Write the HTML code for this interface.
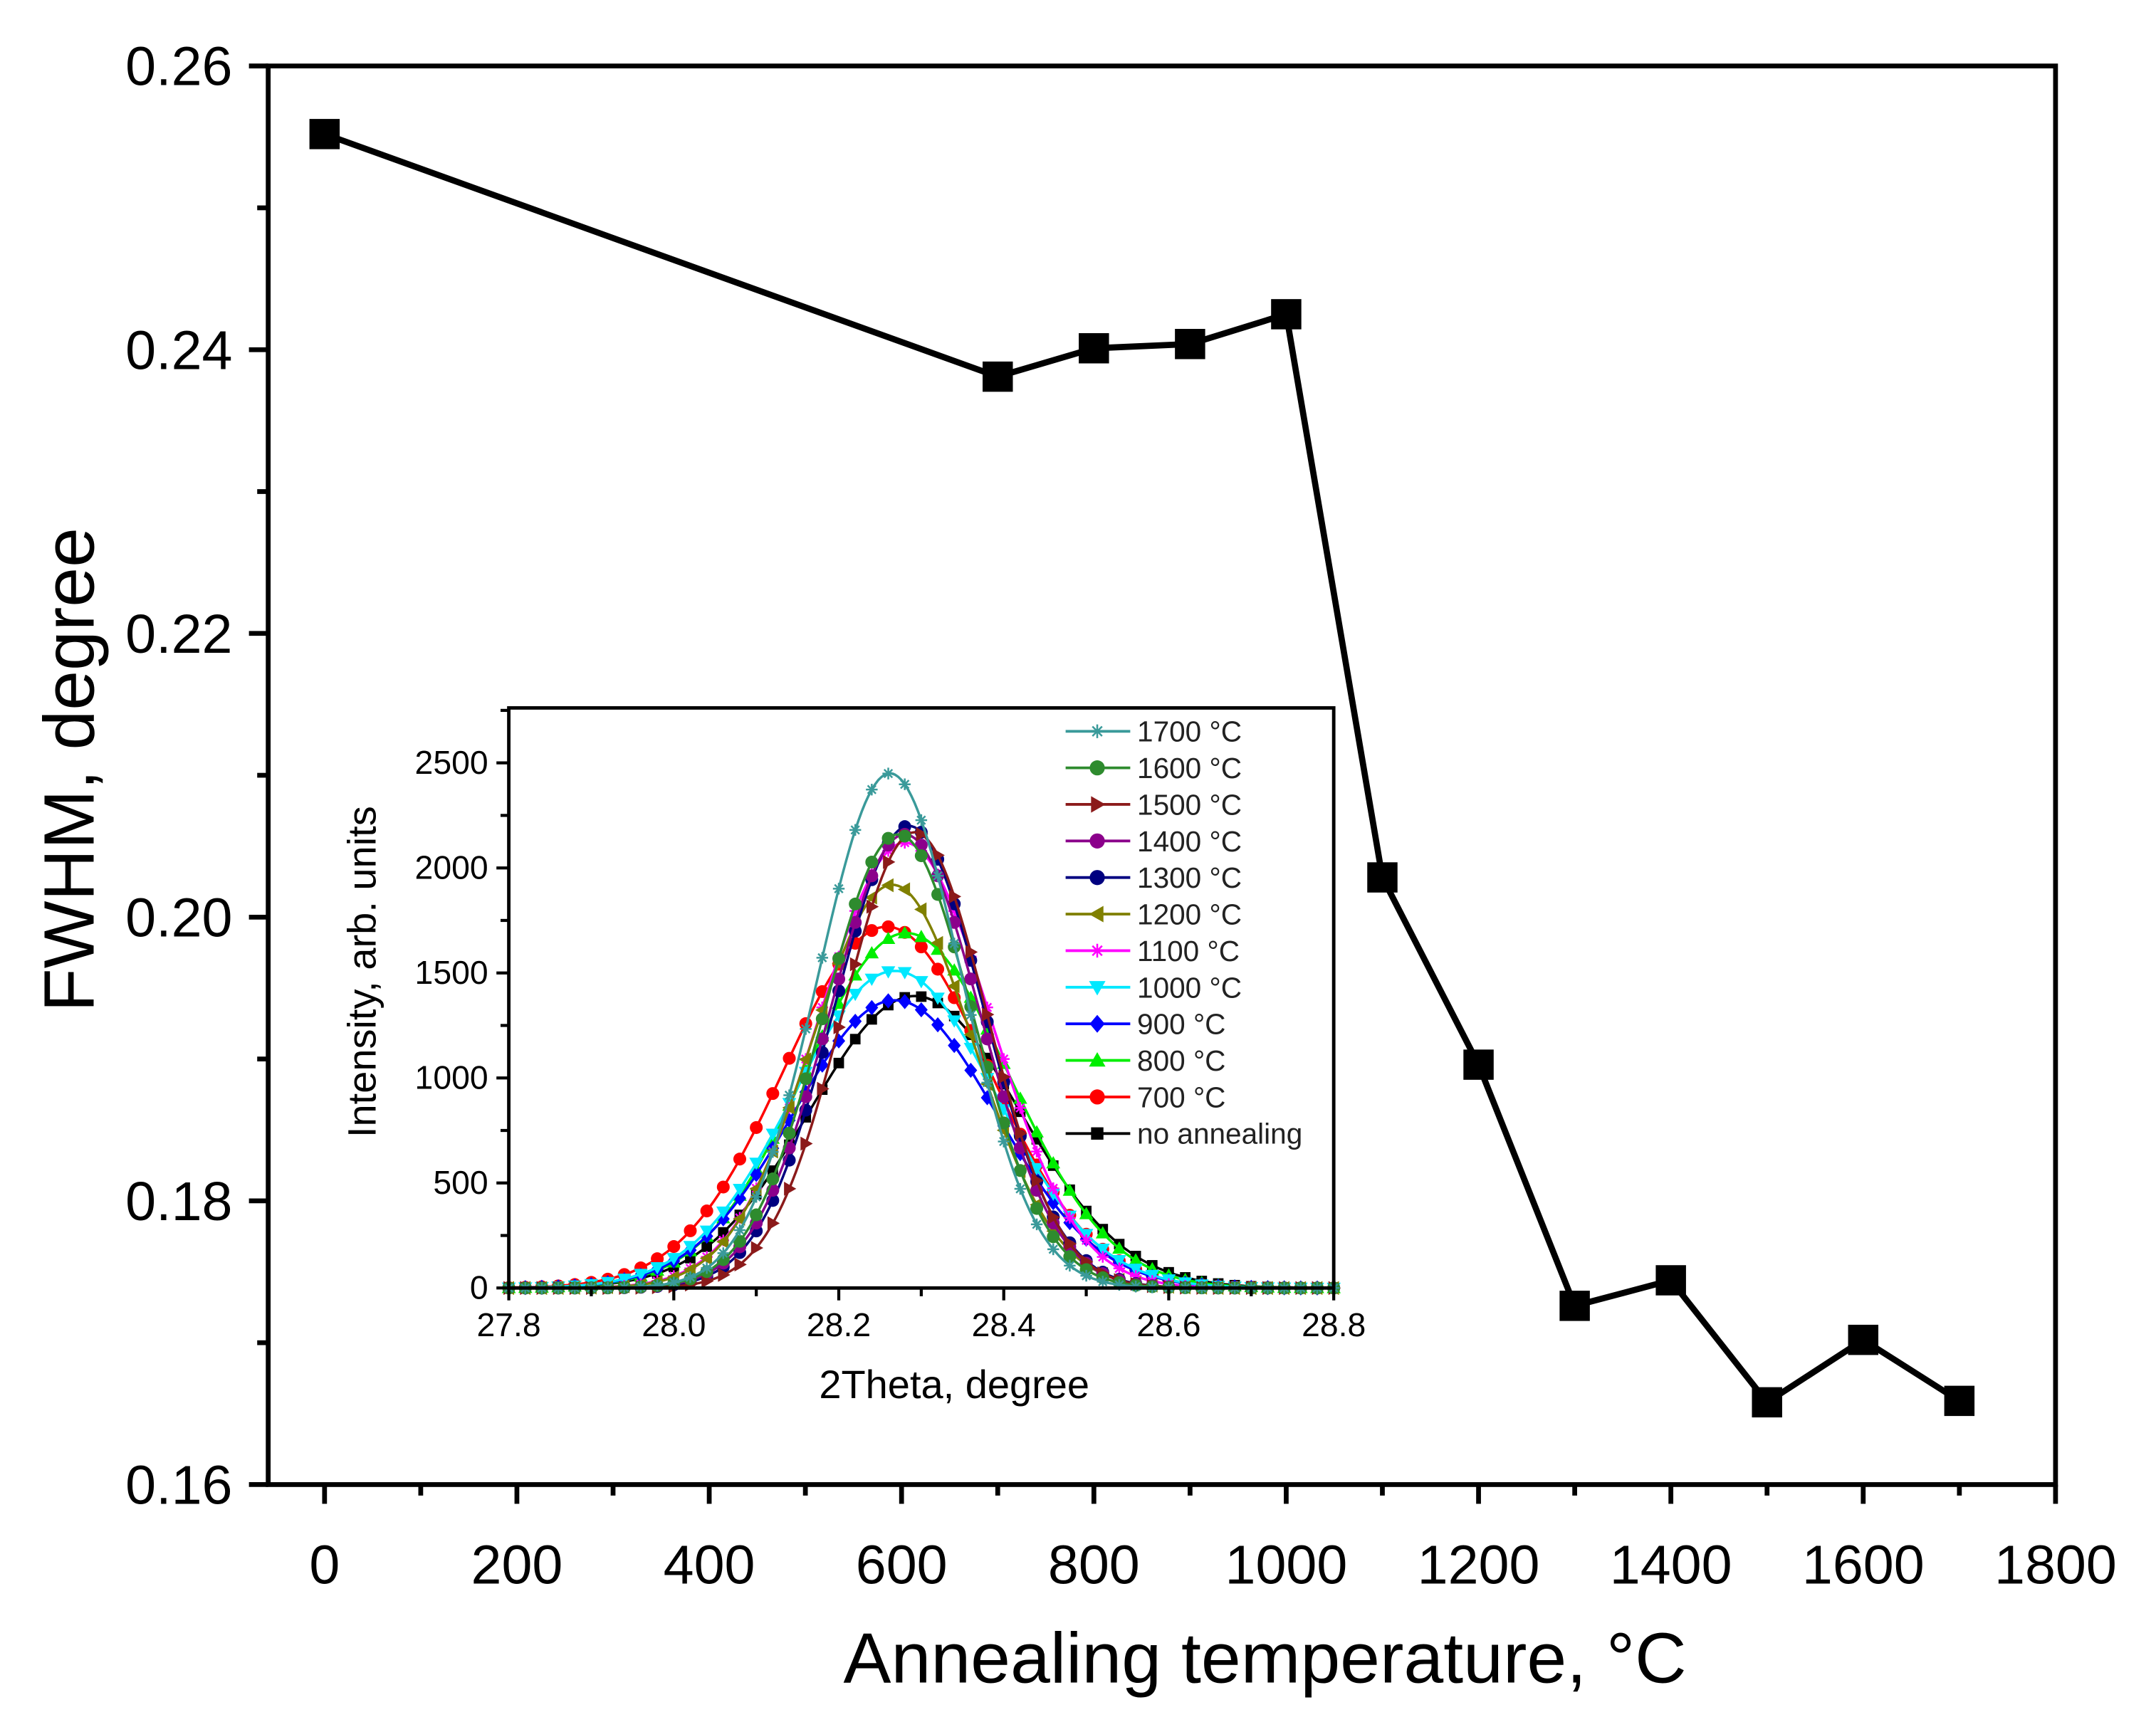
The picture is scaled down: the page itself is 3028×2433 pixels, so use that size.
<!DOCTYPE html>
<html><head><meta charset="utf-8"><style>
html,body{margin:0;padding:0;background:#fff;}
svg{display:block;font-family:"Liberation Sans",Arial,sans-serif;}
</style></head><body>
<svg id="chart" width="3028" height="2433" viewBox="0 0 1568 1260" xmlns="http://www.w3.org/2000/svg">
<rect x="0" y="0" width="1568" height="1260" fill="#fff"/>
<g id="main"></g>
<g id="inset"></g>
</svg>
<script>
// ---- main chart data ----
const temps = [0, 700, 800, 900, 1000, 1100, 1200, 1300, 1400, 1500, 1600, 1700];
const fwhmValues = [0.2552, 0.2381, 0.2401, 0.2404, 0.2425, 0.2028, 0.1896, 0.1726, 0.1744, 0.1658, 0.1702, 0.1659];
const xTickLabels = ["0","200","400","600","800","1000","1200","1400","1600","1800"];
const yTickLabels = ["0.16","0.18","0.20","0.22","0.24","0.26"];
// ---- inset data (peak parameters) ----
const seriesNames = ["1700 °C","1600 °C","1500 °C","1400 °C","1300 °C","1200 °C","1100 °C","1000 °C","900 °C","800 °C","700 °C","no annealing"];
const peakCenters = [28.262, 28.272, 28.292, 28.280, 28.285, 28.265, 28.280, 28.268, 28.268, 28.282, 28.258, 28.292];
const peakHeights = [2450, 2160, 2170, 2160, 2200, 1920, 2120, 1510, 1370, 1690, 1720, 1390];
const peakWidths = [0.205, 0.212, 0.205, 0.215, 0.213, 0.232, 0.245, 0.290, 0.290, 0.290, 0.292, 0.300];
const insetXTicks = ["27.8","28.0","28.2","28.4","28.6","28.8"];
const insetYTicks = ["0","500","1000","1500","2000","2500"];

const NS = "http://www.w3.org/2000/svg";
function mk(tag, attrs, parent){
  const e = document.createElementNS(NS, tag);
  for (const k in attrs) e.setAttribute(k, attrs[k]);
  parent.appendChild(e);
  return e;
}
// ===== main =====
const M = document.getElementById('main');
const mx = t => 236 + t * (1259/1800);
const my = v => 48 + (0.26 - v) / 0.1 * 1032;
let frame = mk('rect', {x:195, y:48, width:1300, height:1032, fill:'none', stroke:'#000', 'stroke-width':3.5}, M);


for (let t = 0; t <= 1800; t += 100) {
  const major = t % 200 === 0;
  const tk = mk('line', {x1:mx(t), x2:mx(t), y1:1080, y2:1080 + (major?14:8), stroke:'#000', 'stroke-width':3.5}, M);
  
  
}
xTickLabels.forEach((l, i) => {
  const tx = mk('text', {x:mx(+l), y:1152, 'font-size':40, 'text-anchor':'middle'}, M);
  tx.textContent = l;
  
  
});
for (let k = 0; k <= 10; k++) {
  const v = 0.16 + k * 0.01;
  const major = k % 2 === 0;
  const tk = mk('line', {x1:195 - (major?14:8), x2:195, y1:my(v), y2:my(v), stroke:'#000', 'stroke-width':3.5}, M);
  
  
}
yTickLabels.forEach(l => {
  const tx = mk('text', {x:169, y:my(+l) + 14, 'font-size':40, 'text-anchor':'end'}, M);
  tx.textContent = l;
  
  
});
let xt = mk('text', {x:920, y:1224, 'font-size':52, 'text-anchor':'middle'}, M);
xt.textContent = 'Annealing temperature, °C';


let yt = mk('text', {x:0, y:0, 'font-size':52, 'text-anchor':'middle', transform:'translate(68,560) rotate(-90)'}, M);
yt.textContent = 'FWHM, degree';


let mline = mk('polyline', {points: temps.map((t,i)=>mx(t)+','+my(fwhmValues[i])).join(' '), fill:'none', stroke:'#000', 'stroke-width':4.5}, M);


temps.forEach((t, i) => {
  const r = mk('rect', {x:mx(t)-11, y:my(fwhmValues[i])-11, width:22, height:22, fill:'#000'}, M);
  
  
});

// ===== inset =====
const I = document.getElementById('inset');
const ix = t => 370 + (t - 27.8) * 600;
const iy = v => 937 - v * (382/2500);
let ibg = mk('rect', {x:370, y:515, width:600, height:422, fill:'#fff', stroke:'none'}, I);


const colors = ["#3a9a9a","#2e8b2e","#8b1a1a","#8b008b","#000080","#808000","#ff00ff","#00e8ff","#0000ff","#00ee00","#ff0000","#000000"];
const shapes = ["star","circle","tri-right","circle","circle","tri-left","star","tri-down","diamond","tri-up","circle","square"];
function marker(shape, x, y, s, color, parent){
  let e;
  if (shape === 'circle') e = mk('circle', {cx:x, cy:y, r:s*0.55, fill:color}, parent);
  else if (shape === 'square') e = mk('rect', {x:x-s*0.45, y:y-s*0.45, width:s*0.9, height:s*0.9, fill:color}, parent);
  else if (shape === 'diamond') e = mk('polygon', {points:`${x},${y-s*0.65} ${x+s*0.55},${y} ${x},${y+s*0.65} ${x-s*0.55},${y}`, fill:color}, parent);
  else if (shape === 'tri-up') e = mk('polygon', {points:`${x},${y-s*0.6} ${x+s*0.6},${y+s*0.45} ${x-s*0.6},${y+s*0.45}`, fill:color}, parent);
  else if (shape === 'tri-down') e = mk('polygon', {points:`${x},${y+s*0.6} ${x+s*0.6},${y-s*0.45} ${x-s*0.6},${y-s*0.45}`, fill:color}, parent);
  else if (shape === 'tri-right') e = mk('polygon', {points:`${x+s*0.6},${y} ${x-s*0.45},${y-s*0.6} ${x-s*0.45},${y+s*0.6}`, fill:color}, parent);
  else if (shape === 'tri-left') e = mk('polygon', {points:`${x-s*0.6},${y} ${x+s*0.45},${y-s*0.6} ${x+s*0.45},${y+s*0.6}`, fill:color}, parent);
  else e = mk('path', {d:`M${x-s*0.5},${y}H${x+s*0.5}M${x},${y-s*0.5}V${y+s*0.5}M${x-s*0.35},${y-s*0.35}L${x+s*0.35},${y+s*0.35}M${x-s*0.35},${y+s*0.35}L${x+s*0.35},${y-s*0.35}`, stroke:color, 'stroke-width':1.3, fill:'none'}, parent);
  return e;
}
const profile = (t, i) => {
  const s = peakWidths[i] / 2.3548;
  return peakHeights[i] * Math.exp(-0.5 * Math.pow((t - peakCenters[i]) / s, 2));
};
for (let i = seriesNames.length - 1; i >= 0; i--) {
  const g = mk('g', {}, I);
  
  
  const pts = [];
  for (let t = 27.8; t <= 28.8001; t += 0.004) pts.push(ix(t).toFixed(1) + ',' + iy(profile(t, i)).toFixed(1));
  const pl = mk('polyline', {points:pts.join(' '), fill:'none', stroke:colors[i], 'stroke-width':1.8}, g);
  
  
  for (let t = 27.8; t <= 28.8001; t += 0.02) {
    const m = marker(shapes[i], ix(t), iy(profile(t, i)), 8.5, colors[i], g);
    
    
  }
}
let iframe = mk('rect', {x:370, y:515, width:600, height:422, fill:'none', stroke:'#000', 'stroke-width':2.5}, I);


for (let k = 0; k <= 10; k++) {
  const t = 27.8 + k * 0.1;
  const major = k % 2 === 0;
  const tk = mk('line', {x1:ix(t), x2:ix(t), y1:937, y2:937 + (major?9:6), stroke:'#000', 'stroke-width':2.2}, I);
  
  
}
insetXTicks.forEach(l => {
  const tx = mk('text', {x:ix(+l), y:972, 'font-size':24, 'text-anchor':'middle'}, I);
  tx.textContent = l;
  
  
});
for (let v = 0; v <= 2750; v += 250) {
  const major = v % 500 === 0;
  const tk = mk('line', {x1:370 - (major?9:6), x2:370, y1:iy(v), y2:iy(v), stroke:'#000', 'stroke-width':2.2}, I);
  
  
}
insetYTicks.forEach(l => {
  const tx = mk('text', {x:355, y:iy(+l) + 8, 'font-size':24, 'text-anchor':'end'}, I);
  tx.textContent = l;
  
  
});
let ixt = mk('text', {x:694, y:1017, 'font-size':29, 'text-anchor':'middle'}, I);
ixt.textContent = '2Theta, degree';


let iyt = mk('text', {x:0, y:0, 'font-size':29, 'text-anchor':'middle', transform:'translate(273,707) rotate(-90)'}, I);
iyt.textContent = 'Intensity, arb. units';


// legend
const L = mk('g', {}, I);


seriesNames.forEach((n, i) => {
  const y = 532 + i * 26.6;
  const g = mk('g', {}, L);
  
  
  mk('line', {x1:775, x2:822, y1:y, y2:y, stroke:colors[i], 'stroke-width':2}, g);
  marker(shapes[i], 798, y, 10, colors[i], g);
  const tx = mk('text', {x:827, y:y + 7.5, 'font-size':21, fill:'#222'}, g);
  tx.textContent = n;
});
</script>
</body></html>
